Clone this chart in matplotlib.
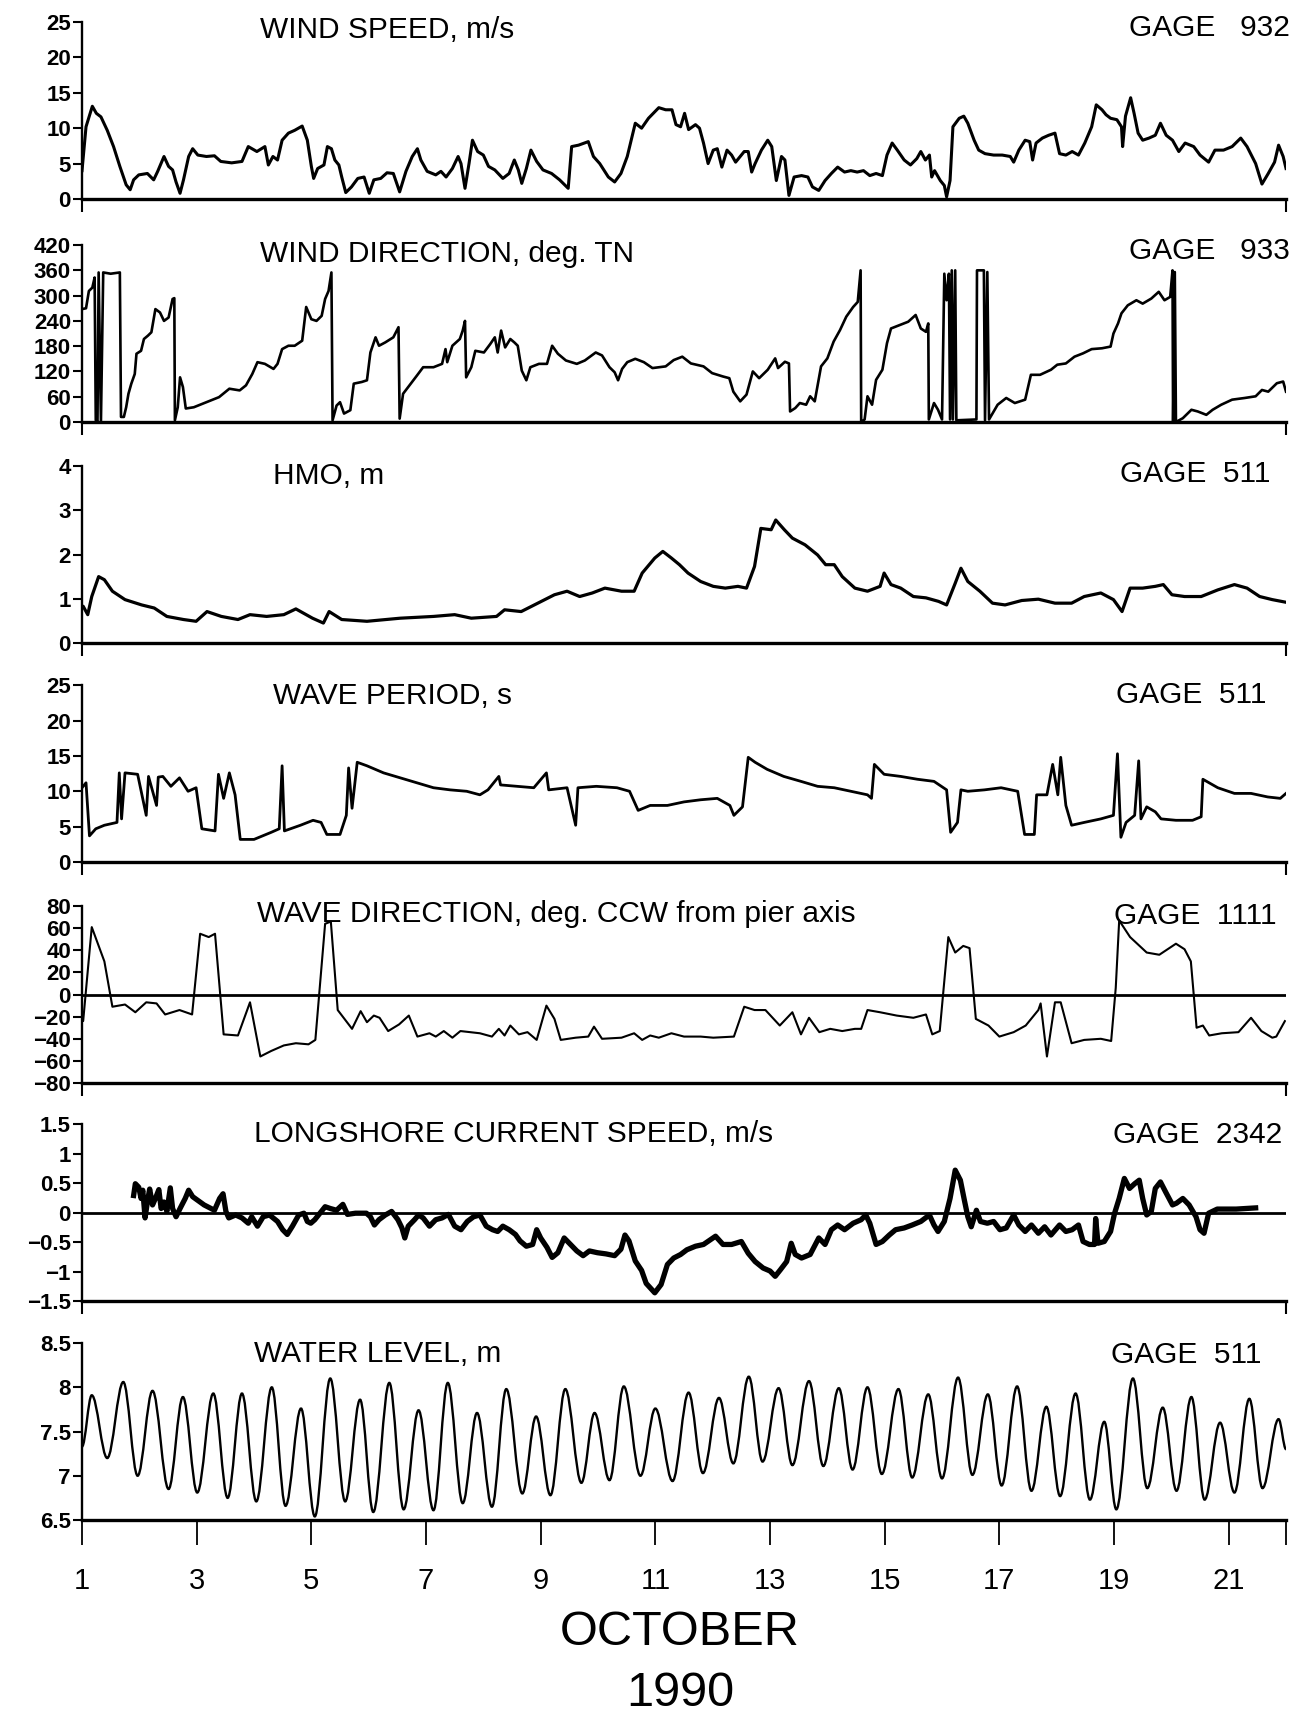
import matplotlib
matplotlib.use('Agg')
import matplotlib.pyplot as plt
from matplotlib.path import Path
from matplotlib.patches import PathPatch
from matplotlib import font_manager

installed = {f.name for f in font_manager.fontManager.ttflist}
FONT = 'Liberation Sans Narrow' if 'Liberation Sans Narrow' in installed else 'Liberation Sans'
plt.rcParams['font.family'] = FONT

# (day of October 1990, value)
wind_speed = [
    (1.00, 4.0), (1.07, 10.2), (1.18, 13.1), (1.25, 12.1), (1.33, 11.6), (1.44, 9.7), (1.55, 7.4),
    (1.66, 4.6), (1.77, 2.0), (1.84, 1.3), (1.90, 2.7), (1.99, 3.4), (2.14, 3.6), (2.25, 2.7),
    (2.32, 3.9), (2.43, 6.0), (2.51, 4.6), (2.58, 4.1), (2.64, 2.4), (2.71, 0.8), (2.77, 2.7),
    (2.86, 6.0), (2.93, 7.1), (3.02, 6.2), (3.17, 6.0), (3.31, 6.1), (3.42, 5.3), (3.61, 5.1),
    (3.79, 5.3), (3.90, 7.4), (4.05, 6.7), (4.19, 7.4), (4.25, 4.8), (4.33, 6.0), (4.41, 5.5),
    (4.49, 8.3), (4.60, 9.3), (4.71, 9.7), (4.84, 10.3), (4.93, 8.3), (5.00, 4.6), (5.04, 2.9),
    (5.11, 4.3), (5.22, 4.8), (5.28, 7.4), (5.35, 7.1), (5.41, 5.5), (5.48, 4.8), (5.53, 3.1),
    (5.60, 0.9), (5.70, 1.7), (5.81, 2.9), (5.92, 3.1), (6.01, 0.8), (6.09, 2.7), (6.21, 2.9),
    (6.32, 3.7), (6.43, 3.6), (6.54, 1.0), (6.65, 3.9), (6.76, 6.0), (6.85, 7.1), (6.91, 5.5),
    (7.02, 3.9), (7.17, 3.4), (7.26, 3.9), (7.35, 3.1), (7.46, 4.3), (7.56, 6.0), (7.61, 5.0),
    (7.68, 1.5), (7.75, 5.0), (7.81, 8.3), (7.90, 6.7), (8.00, 6.2), (8.09, 4.6), (8.20, 4.1),
    (8.34, 2.9), (8.45, 3.6), (8.54, 5.5), (8.61, 4.1), (8.67, 2.2), (8.75, 4.3), (8.83, 6.9),
    (8.93, 5.3), (9.04, 4.1), (9.19, 3.6), (9.33, 2.7), (9.48, 1.5), (9.54, 7.4), (9.66, 7.6),
    (9.83, 8.1), (9.92, 6.0), (10.03, 5.0), (10.18, 3.1), (10.29, 2.4), (10.40, 3.6), (10.51, 6.0),
    (10.65, 10.7), (10.76, 10.0), (10.88, 11.4), (11.06, 12.9), (11.18, 12.6), (11.29, 12.6),
    (11.36, 10.5), (11.44, 10.2), (11.51, 12.1), (11.58, 9.8), (11.70, 10.5), (11.77, 10.0),
    (11.84, 7.9), (11.92, 5.0), (12.01, 6.9), (12.08, 7.1), (12.16, 4.5), (12.25, 6.9), (12.33, 6.2),
    (12.40, 5.2), (12.48, 6.0), (12.55, 6.7), (12.62, 6.7), (12.68, 3.8), (12.74, 5.0), (12.85, 6.9),
    (12.96, 8.3), (13.03, 7.4), (13.11, 2.6), (13.20, 6.0), (13.26, 5.5), (13.33, 0.5), (13.42, 3.1),
    (13.55, 3.3), (13.66, 3.1), (13.74, 1.7), (13.85, 1.2), (13.96, 2.6), (14.07, 3.6), (14.18, 4.5),
    (14.30, 3.8), (14.41, 4.0), (14.52, 3.8), (14.63, 4.0), (14.74, 3.3), (14.85, 3.6), (14.96, 3.3),
    (15.04, 6.2), (15.13, 7.9), (15.22, 6.9), (15.34, 5.5), (15.45, 4.8), (15.56, 5.7), (15.63, 6.7),
    (15.71, 5.5), (15.78, 6.2), (15.82, 3.1), (15.87, 4.0), (15.97, 2.6), (16.04, 1.9), (16.08, 0.3),
    (16.14, 2.6), (16.19, 10.2), (16.30, 11.4), (16.38, 11.7), (16.45, 10.7), (16.56, 8.3),
    (16.64, 6.9), (16.75, 6.4), (16.90, 6.2), (17.05, 6.2), (17.19, 6.0), (17.25, 5.2), (17.34, 6.9),
    (17.45, 8.3), (17.53, 8.1), (17.58, 5.5), (17.64, 7.9), (17.75, 8.6), (17.86, 9.0), (17.97, 9.3),
    (18.05, 6.4), (18.16, 6.2), (18.27, 6.7), (18.38, 6.2), (18.49, 7.9), (18.61, 10.2), (18.69, 13.3),
    (18.79, 12.6), (18.86, 11.9), (18.94, 11.4), (19.05, 11.2), (19.13, 10.2), (19.15, 7.4),
    (19.20, 11.7), (19.29, 14.3), (19.35, 12.1), (19.42, 9.3), (19.50, 8.3), (19.61, 8.6),
    (19.72, 9.0), (19.81, 10.7), (19.91, 9.0), (20.02, 8.3), (20.13, 6.7), (20.24, 7.9), (20.39, 7.4),
    (20.50, 6.2), (20.65, 5.2), (20.76, 6.9), (20.91, 6.9), (21.06, 7.4), (21.21, 8.6), (21.32, 7.4),
    (21.47, 5.0), (21.58, 2.1), (21.69, 3.6), (21.80, 5.2), (21.87, 7.6), (21.95, 6.0), (22.00, 4.3),
]

wind_dir = [
    (1.00, 268), (1.07, 270), (1.12, 311), (1.18, 319), (1.22, 343), (1.24, 4), (1.27, 0), (1.29, 355),
    (1.33, 0), (1.37, 355), (1.50, 352), (1.66, 355), (1.68, 12), (1.73, 12), (1.77, 35), (1.81, 67),
    (1.86, 91), (1.92, 114), (1.95, 162), (2.03, 169), (2.08, 197), (2.15, 205), (2.21, 213),
    (2.28, 268), (2.36, 260), (2.43, 240), (2.51, 248), (2.58, 292), (2.61, 294), (2.62, 4),
    (2.67, 35), (2.71, 106), (2.76, 83), (2.81, 32), (2.95, 35), (3.17, 47), (3.39, 59), (3.57, 79),
    (3.75, 75), (3.86, 87), (3.97, 114), (4.06, 142), (4.19, 138), (4.34, 126), (4.41, 138),
    (4.49, 173), (4.60, 181), (4.71, 181), (4.84, 193), (4.91, 273), (5.00, 244), (5.09, 240),
    (5.18, 252), (5.24, 292), (5.30, 311), (5.35, 355), (5.37, 4), (5.44, 39), (5.50, 47), (5.57, 20),
    (5.68, 28), (5.74, 91), (5.88, 95), (5.97, 99), (6.03, 165), (6.12, 201), (6.18, 181), (6.29, 189),
    (6.43, 201), (6.52, 225), (6.54, 8), (6.60, 67), (6.69, 83), (6.84, 110), (6.95, 130), (7.13, 130),
    (7.28, 138), (7.34, 173), (7.37, 142), (7.46, 181), (7.59, 197), (7.64, 217), (7.68, 240),
    (7.70, 106), (7.79, 130), (7.86, 169), (8.01, 165), (8.12, 185), (8.20, 201), (8.25, 165),
    (8.31, 217), (8.38, 177), (8.47, 197), (8.54, 189), (8.60, 181), (8.67, 122), (8.75, 99),
    (8.82, 130), (8.97, 138), (9.11, 138), (9.20, 181), (9.30, 162), (9.44, 146), (9.63, 138),
    (9.77, 146), (9.96, 165), (10.07, 158), (10.20, 130), (10.29, 118), (10.35, 99), (10.42, 126),
    (10.51, 142), (10.65, 150), (10.80, 142), (10.95, 128), (11.18, 132), (11.32, 147), (11.47, 155),
    (11.62, 139), (11.84, 132), (11.99, 116), (12.18, 108), (12.29, 104), (12.36, 72), (12.48, 49),
    (12.59, 65), (12.70, 120), (12.81, 104), (12.96, 124), (13.09, 151), (13.14, 128), (13.26, 143),
    (13.33, 139), (13.35, 25), (13.44, 33), (13.52, 45), (13.63, 41), (13.70, 61), (13.78, 49),
    (13.89, 132), (14.00, 151), (14.11, 191), (14.22, 218), (14.33, 250), (14.45, 273), (14.53, 285),
    (14.58, 360), (14.59, 0), (14.65, 6), (14.70, 61), (14.78, 41), (14.85, 100), (14.96, 124),
    (15.04, 187), (15.11, 222), (15.26, 230), (15.41, 238), (15.54, 254), (15.63, 222), (15.72, 214),
    (15.76, 234), (15.77, 6), (15.86, 45), (15.93, 29), (16.00, 6), (16.04, 352), (16.08, 289),
    (16.12, 352), (16.14, 6), (16.17, 360), (16.19, 6), (16.23, 360), (16.25, 4), (16.60, 6),
    (16.61, 360), (16.73, 360), (16.75, 4), (16.79, 356), (16.82, 6), (16.97, 41), (17.12, 57),
    (17.27, 45), (17.45, 53), (17.55, 112), (17.71, 112), (17.90, 124), (18.01, 136), (18.16, 139),
    (18.31, 155), (18.46, 163), (18.61, 173), (18.79, 175), (18.94, 179), (18.99, 210), (19.07, 234),
    (19.13, 258), (19.24, 277), (19.39, 289), (19.50, 281), (19.65, 293), (19.78, 309), (19.88, 289),
    (19.98, 297), (20.02, 360), (20.03, 0), (20.06, 356), (20.08, 0), (20.20, 9), (20.35, 29),
    (20.46, 25), (20.61, 17), (20.72, 29), (20.87, 41), (21.06, 53), (21.28, 57), (21.47, 61),
    (21.58, 76), (21.69, 72), (21.84, 92), (21.95, 96), (22.00, 72),
]

hmo = [
    (1.00, 0.80), (1.02, 0.83), (1.10, 0.64), (1.17, 1.05), (1.29, 1.50), (1.39, 1.43), (1.53, 1.17),
    (1.75, 0.98), (2.04, 0.86), (2.26, 0.79), (2.48, 0.60), (2.77, 0.53), (2.99, 0.49), (3.18, 0.71),
    (3.43, 0.60), (3.72, 0.53), (3.93, 0.64), (4.22, 0.60), (4.52, 0.64), (4.73, 0.77), (5.02, 0.56),
    (5.21, 0.45), (5.31, 0.71), (5.53, 0.53), (5.97, 0.49), (6.55, 0.56), (7.13, 0.60), (7.50, 0.64),
    (7.79, 0.56), (8.23, 0.60), (8.37, 0.75), (8.66, 0.71), (8.95, 0.90), (9.24, 1.09), (9.46, 1.17),
    (9.68, 1.05), (9.90, 1.13), (10.12, 1.24), (10.41, 1.17), (10.63, 1.17), (10.77, 1.58),
    (10.99, 1.92), (11.13, 2.07), (11.28, 1.92), (11.42, 1.77), (11.57, 1.58), (11.79, 1.39),
    (12.01, 1.28), (12.22, 1.24), (12.44, 1.28), (12.59, 1.24), (12.73, 1.73), (12.84, 2.59),
    (13.02, 2.56), (13.10, 2.78), (13.25, 2.56), (13.39, 2.37), (13.61, 2.22), (13.83, 1.99),
    (13.97, 1.77), (14.12, 1.77), (14.26, 1.50), (14.48, 1.24), (14.70, 1.17), (14.92, 1.28),
    (14.99, 1.58), (15.11, 1.32), (15.28, 1.24), (15.50, 1.05), (15.72, 1.02), (15.94, 0.94),
    (16.08, 0.86), (16.23, 1.35), (16.33, 1.69), (16.45, 1.39), (16.66, 1.17), (16.88, 0.90),
    (17.10, 0.86), (17.39, 0.96), (17.68, 0.99), (17.97, 0.90), (18.26, 0.90), (18.48, 1.05),
    (18.77, 1.13), (18.99, 0.98), (19.14, 0.71), (19.28, 1.24), (19.50, 1.24), (19.72, 1.28),
    (19.86, 1.32), (20.01, 1.09), (20.23, 1.05), (20.52, 1.05), (20.81, 1.20), (21.10, 1.32),
    (21.32, 1.24), (21.54, 1.05), (21.76, 0.98), (22.00, 0.92),
]

wave_period = [
    (1.00, 10.5), (1.07, 11.2), (1.13, 3.7), (1.24, 4.7), (1.39, 5.2), (1.61, 5.6), (1.65, 12.6),
    (1.69, 6.1), (1.75, 12.6), (1.97, 12.4), (2.12, 6.6), (2.16, 12.1), (2.30, 8.0), (2.33, 12.0),
    (2.41, 12.1), (2.55, 10.7), (2.70, 11.9), (2.85, 10.0), (2.99, 10.5), (3.09, 4.7), (3.32, 4.4),
    (3.38, 12.4), (3.47, 9.0), (3.57, 12.6), (3.67, 9.5), (3.76, 3.2), (4.00, 3.2), (4.30, 4.2),
    (4.44, 4.7), (4.49, 13.6), (4.53, 4.4), (4.81, 5.2), (5.03, 5.9), (5.17, 5.6), (5.27, 3.9),
    (5.50, 3.9), (5.61, 6.6), (5.65, 13.3), (5.71, 7.6), (5.80, 14.1), (5.97, 13.6), (6.26, 12.6),
    (6.55, 11.9), (6.84, 11.2), (7.13, 10.5), (7.42, 10.2), (7.71, 10.0), (7.94, 9.5), (8.08, 10.2),
    (8.27, 12.1), (8.30, 10.9), (8.59, 10.7), (8.88, 10.5), (9.10, 12.6), (9.14, 10.2), (9.46, 10.5),
    (9.61, 5.2), (9.65, 10.5), (9.97, 10.7), (10.33, 10.5), (10.55, 10.0), (10.70, 7.3), (10.91, 8.0),
    (11.21, 8.0), (11.50, 8.5), (11.79, 8.8), (12.08, 9.0), (12.30, 8.0), (12.37, 6.6), (12.52, 7.8),
    (12.62, 14.8), (12.74, 14.1), (12.95, 13.1), (13.24, 12.1), (13.54, 11.4), (13.83, 10.7),
    (14.12, 10.5), (14.41, 10.0), (14.70, 9.5), (14.77, 9.0), (14.82, 13.8), (14.99, 12.4),
    (15.28, 12.1), (15.57, 11.7), (15.86, 11.4), (16.08, 10.2), (16.15, 4.2), (16.27, 5.6),
    (16.33, 10.2), (16.45, 10.0), (16.74, 10.2), (17.03, 10.5), (17.32, 10.0), (17.44, 3.9),
    (17.61, 3.9), (17.65, 9.5), (17.83, 9.5), (17.93, 13.8), (18.02, 9.5), (18.07, 14.8), (18.16, 8.0),
    (18.26, 5.2), (18.48, 5.6), (18.77, 6.1), (18.99, 6.6), (19.06, 15.3), (19.12, 3.5), (19.21, 5.6),
    (19.36, 6.6), (19.43, 14.3), (19.47, 6.1), (19.57, 7.8), (19.72, 7.1), (19.82, 6.1), (20.08, 5.9),
    (20.37, 5.9), (20.52, 6.4), (20.55, 11.7), (20.81, 10.5), (21.10, 9.7), (21.39, 9.7), (21.68, 9.2),
    (21.90, 9.0), (22.00, 9.7),
]

wave_dir = [
    (1.00, -22), (1.02, -24), (1.17, 61), (1.39, 30), (1.53, -11), (1.75, -9), (1.93, -16), (2.12, -7),
    (2.30, -8), (2.45, -18), (2.70, -14), (2.92, -18), (3.06, 55), (3.21, 52), (3.32, 55), (3.47, -36),
    (3.72, -37), (3.93, -7), (4.11, -56), (4.30, -51), (4.52, -46), (4.73, -44), (4.95, -45),
    (5.07, -41), (5.24, 64), (5.34, 66), (5.46, -14), (5.71, -31), (5.86, -15), (5.97, -25),
    (6.09, -19), (6.19, -21), (6.34, -33), (6.53, -27), (6.70, -19), (6.85, -38), (7.06, -35),
    (7.17, -38), (7.31, -33), (7.46, -39), (7.60, -33), (7.94, -35), (8.15, -38), (8.27, -31),
    (8.37, -37), (8.47, -28), (8.62, -36), (8.77, -34), (8.93, -41), (9.10, -10), (9.24, -22),
    (9.35, -41), (9.61, -39), (9.83, -38), (9.93, -29), (10.07, -40), (10.41, -39), (10.63, -35),
    (10.77, -41), (10.91, -37), (11.06, -39), (11.28, -35), (11.50, -38), (11.79, -38), (12.01, -39),
    (12.37, -38), (12.55, -11), (12.73, -14), (12.92, -14), (13.17, -28), (13.39, -16), (13.54, -36),
    (13.68, -21), (13.86, -34), (14.05, -31), (14.26, -33), (14.48, -31), (14.59, -31), (14.70, -14),
    (14.92, -16), (15.21, -19), (15.50, -21), (15.72, -18), (15.83, -36), (15.96, -33), (16.11, 52),
    (16.23, 38), (16.37, 44), (16.48, 42), (16.59, -22), (16.81, -28), (17.00, -38), (17.25, -34),
    (17.46, -28), (17.68, -14), (17.72, -8), (17.83, -56), (17.97, -7), (18.07, -7), (18.26, -44),
    (18.48, -41), (18.77, -40), (18.95, -42), (19.03, 6), (19.09, 67), (19.28, 52), (19.57, 38),
    (19.79, 36), (20.08, 46), (20.23, 41), (20.34, 30), (20.44, -30), (20.55, -28), (20.66, -37),
    (20.88, -35), (21.17, -34), (21.39, -21), (21.57, -33), (21.76, -39), (21.83, -38), (21.98, -24),
]

current = [
    (1.90, 0.29), (1.93, 0.49), (1.99, 0.43), (2.03, 0.24), (2.06, 0.38), (2.10, -0.09), (2.14, 0.18),
    (2.18, 0.40), (2.23, 0.13), (2.28, 0.24), (2.34, 0.39), (2.38, 0.07), (2.43, 0.18), (2.48, 0.02),
    (2.54, 0.42), (2.58, 0.07), (2.64, -0.07), (2.71, 0.07), (2.80, 0.24), (2.86, 0.38), (2.93, 0.27),
    (3.13, 0.13), (3.31, 0.04), (3.40, 0.24), (3.46, 0.32), (3.51, 0.02), (3.56, -0.09), (3.68, -0.04),
    (3.79, -0.09), (3.90, -0.18), (3.96, -0.07), (4.06, -0.23), (4.16, -0.07), (4.27, -0.04),
    (4.41, -0.15), (4.50, -0.29), (4.58, -0.37), (4.67, -0.23), (4.78, -0.04), (4.87, -0.01),
    (4.93, -0.15), (4.99, -0.18), (5.06, -0.12), (5.15, -0.01), (5.24, 0.10), (5.33, 0.07),
    (5.44, 0.04), (5.55, 0.14), (5.63, -0.03), (5.77, -0.01), (5.96, -0.01), (6.03, -0.07),
    (6.10, -0.21), (6.18, -0.12), (6.29, -0.04), (6.40, 0.02), (6.51, -0.12), (6.58, -0.26),
    (6.63, -0.43), (6.69, -0.23), (6.80, -0.12), (6.87, -0.04), (6.95, -0.09), (7.06, -0.23),
    (7.17, -0.12), (7.28, -0.09), (7.39, -0.03), (7.50, -0.23), (7.61, -0.29), (7.72, -0.15),
    (7.83, -0.07), (7.94, -0.04), (8.05, -0.23), (8.16, -0.29), (8.25, -0.32), (8.34, -0.23),
    (8.45, -0.29), (8.56, -0.37), (8.64, -0.48), (8.75, -0.57), (8.86, -0.54), (8.93, -0.29),
    (9.00, -0.43), (9.11, -0.59), (9.20, -0.76), (9.30, -0.68), (9.41, -0.43), (9.52, -0.54),
    (9.63, -0.65), (9.74, -0.73), (9.85, -0.65), (9.99, -0.68), (10.14, -0.70), (10.29, -0.73),
    (10.40, -0.62), (10.47, -0.38), (10.54, -0.48), (10.65, -0.82), (10.76, -0.98), (10.84, -1.20),
    (10.99, -1.36), (11.10, -1.22), (11.21, -0.88), (11.32, -0.77), (11.44, -0.71), (11.55, -0.63),
    (11.70, -0.57), (11.84, -0.54), (12.05, -0.40), (12.18, -0.54), (12.33, -0.54), (12.50, -0.49),
    (12.62, -0.69), (12.74, -0.83), (12.88, -0.94), (13.00, -0.99), (13.09, -1.08), (13.18, -0.97),
    (13.29, -0.83), (13.37, -0.52), (13.44, -0.71), (13.55, -0.77), (13.70, -0.71), (13.85, -0.43),
    (13.96, -0.54), (14.07, -0.29), (14.18, -0.21), (14.30, -0.29), (14.45, -0.18), (14.59, -0.12),
    (14.67, -0.04), (14.74, -0.18), (14.85, -0.54), (14.96, -0.49), (15.08, -0.38), (15.19, -0.29),
    (15.34, -0.26), (15.48, -0.21), (15.63, -0.15), (15.78, -0.04), (15.86, -0.21), (15.93, -0.32),
    (16.04, -0.15), (16.14, 0.24), (16.23, 0.72), (16.32, 0.55), (16.39, 0.21), (16.45, -0.07),
    (16.51, -0.24), (16.60, 0.04), (16.67, -0.15), (16.79, -0.18), (16.90, -0.15), (17.01, -0.29),
    (17.12, -0.26), (17.25, -0.04), (17.34, -0.21), (17.45, -0.32), (17.56, -0.21), (17.68, -0.35),
    (17.79, -0.24), (17.90, -0.38), (18.05, -0.21), (18.16, -0.32), (18.27, -0.29), (18.38, -0.21),
    (18.46, -0.49), (18.57, -0.54), (18.66, -0.54), (18.68, -0.10), (18.72, -0.52), (18.83, -0.49),
    (18.94, -0.32), (19.01, -0.01), (19.09, 0.24), (19.18, 0.58), (19.27, 0.41), (19.36, 0.49),
    (19.44, 0.55), (19.50, 0.24), (19.57, -0.04), (19.65, 0.02), (19.72, 0.41), (19.81, 0.52),
    (19.90, 0.35), (20.02, 0.13), (20.09, 0.16), (20.20, 0.24), (20.31, 0.13), (20.43, -0.07),
    (20.50, -0.29), (20.57, -0.35), (20.65, -0.01), (20.80, 0.06), (21.13, 0.06), (21.47, 0.08),
]

# tide highs and lows
water_level = [
    (1.00, 7.33), (1.17, 7.91), (1.44, 7.20), (1.72, 8.06), (1.97, 7.00), (2.23, 7.96), (2.51, 6.85),
    (2.76, 7.89), (3.01, 6.81), (3.29, 7.93), (3.54, 6.75), (3.79, 7.93), (4.04, 6.71), (4.31, 8.00),
    (4.55, 6.66), (4.82, 7.76), (5.06, 6.54), (5.33, 8.10), (5.59, 6.71), (5.85, 7.86), (6.08, 6.59),
    (6.36, 8.05), (6.61, 6.62), (6.87, 7.74), (7.13, 6.61), (7.38, 8.05), (7.64, 6.69), (7.89, 7.71),
    (8.15, 6.65), (8.40, 7.98), (8.68, 6.80), (8.92, 7.67), (9.17, 6.78), (9.43, 7.98), (9.71, 6.92),
    (9.94, 7.71), (10.20, 6.95), (10.45, 8.01), (10.74, 7.00), (11.00, 7.76), (11.30, 6.94),
    (11.58, 7.94), (11.83, 7.03), (12.11, 7.88), (12.36, 7.14), (12.63, 8.12), (12.87, 7.16),
    (13.15, 7.99), (13.39, 7.12), (13.68, 8.07), (13.93, 7.11), (14.20, 7.99), (14.44, 7.07),
    (14.70, 8.00), (14.95, 7.02), (15.24, 7.98), (15.48, 6.98), (15.76, 7.92), (16.00, 6.97),
    (16.28, 8.11), (16.53, 7.01), (16.80, 7.92), (17.04, 6.89), (17.31, 8.01), (17.56, 6.83),
    (17.82, 7.78), (18.06, 6.77), (18.33, 7.93), (18.58, 6.73), (18.83, 7.61), (19.04, 6.62),
    (19.33, 8.10), (19.58, 6.86), (19.85, 7.77), (20.09, 6.83), (20.35, 7.89), (20.58, 6.73),
    (20.85, 7.60), (21.10, 6.81), (21.36, 7.87), (21.59, 6.86), (21.87, 7.64), (22.00, 7.30),
]

titles = ['WIND SPEED, m/s', 'WIND DIRECTION, deg. TN', 'HMO, m', 'WAVE PERIOD, s',
          'WAVE DIRECTION, deg. CCW from pier axis', 'LONGSHORE CURRENT SPEED, m/s', 'WATER LEVEL, m']
gages = ['GAGE   932', 'GAGE   933', 'GAGE  511', 'GAGE  511', 'GAGE  1111', 'GAGE  2342', 'GAGE  511']
ylims = [(0, 25), (0, 420), (0, 4), (0, 25), (-80, 80), (-1.5, 1.5), (6.5, 8.5)]
yticks = [[0, 5, 10, 15, 20, 25],
          [0, 60, 120, 180, 240, 300, 360, 420],
          [0, 1, 2, 3, 4],
          [0, 5, 10, 15, 20, 25],
          [-80, -60, -40, -20, 0, 20, 40, 60, 80],
          [-1.5, -1, -0.5, 0, 0.5, 1, 1.5],
          [6.5, 7, 7.5, 8, 8.5]]
ytick_labels = [['0', '5', '10', '15', '20', '25'],
                ['0', '60', '120', '180', '240', '300', '360', '420'],
                ['0', '1', '2', '3', '4'],
                ['0', '5', '10', '15', '20', '25'],
                ['\u221280', '\u221260', '\u221240', '\u221220', '0', '20', '40', '60', '80'],
                ['\u22121.5', '\u22121', '\u22120.5', '0', '0.5', '1', '1.5'],
                ['6.5', '7', '7.5', '8', '8.5']]
day_ticks = [1, 3, 5, 7, 9, 11, 13, 15, 17, 19, 21]

series = [wind_speed, wind_dir, hmo, wave_period, wave_dir, current, water_level]
line_widths = [2.2, 1.9, 2.3, 2.0, 1.5, 3.8, 1.7]
zero_line = [False, False, False, False, True, True, False]

# layout (figure fractions)
bottoms = [0.8844, 0.7548, 0.6264, 0.4991, 0.3707, 0.2440, 0.1168]
title_pos = [(0.148, 0.957), (0.148, 0.950), (0.159, 0.945), (0.159, 0.940),
             (0.145, 0.955), (0.143, 0.945), (0.143, 0.940)]
gage_pos = [(1.003, 0.965), (1.003, 0.966), (0.987, 0.955), (0.984, 0.945),
            (0.992, 0.945), (0.997, 0.940), (0.980, 0.935)]


def tide_path(points):
    # smooth curve through the read highs/lows, flat at each turning point
    verts = [points[0]]
    codes = [Path.MOVETO]
    for (t0, v0), (t1, v1) in zip(points[:-1], points[1:]):
        dt = t1 - t0
        verts += [(t0 + 0.36 * dt, v0), (t1 - 0.36 * dt, v1), (t1, v1)]
        codes += [Path.CURVE4] * 3
    return Path(verts, codes)


fig = plt.figure(figsize=(13.08, 17.21), dpi=100)

for i in range(7):
    ax = fig.add_axes([0.0627, bottoms[i], 0.9205, 0.1028])
    if series[i] is water_level:
        ax.add_patch(PathPatch(tide_path(water_level), facecolor='none',
                               edgecolor='black', lw=line_widths[i]))
    else:
        days = [p[0] for p in series[i]]
        vals = [p[1] for p in series[i]]
        ax.plot(days, vals, color='black', lw=line_widths[i], solid_joinstyle='round')
    if zero_line[i]:
        ax.axhline(0, color='black', lw=2.0)

    ax.set_xlim(1, 22)
    ax.set_ylim(*ylims[i])
    ax.set_yticks(yticks[i])
    ax.set_yticklabels(ytick_labels[i], fontsize=16, fontweight='bold')
    ax.tick_params(axis='y', length=6.5, width=1.5, pad=1.5, direction='out')

    for s in ['top', 'right']:
        ax.spines[s].set_visible(False)
    ax.spines['left'].set_linewidth(1.7)
    ax.spines['bottom'].set_linewidth(2.4)

    if i == 6:
        ax.set_xticks(day_ticks + [22])
        ax.set_xticklabels([str(d) for d in day_ticks] + [''], fontsize=21)
        ax.tick_params(axis='x', length=18, width=1.3, pad=16, direction='out')
    else:
        ax.set_xticks([1, 22])
        ax.set_xticklabels([])
        ax.tick_params(axis='x', length=9.5, width=1.5, direction='out')

    ax.text(title_pos[i][0], title_pos[i][1], titles[i], transform=ax.transAxes,
            fontsize=21.5, ha='left', va='center')
    ax.text(gage_pos[i][0], gage_pos[i][1], gages[i], transform=ax.transAxes,
            fontsize=21.5, ha='right', va='center')

fig.text(0.52, 0.0514, 'OCTOBER', fontsize=35, ha='center', va='center')
fig.text(0.52, 0.0160, '1990', fontsize=35, ha='center', va='center')

fig.savefig('out.png', dpi=100, facecolor='white')
